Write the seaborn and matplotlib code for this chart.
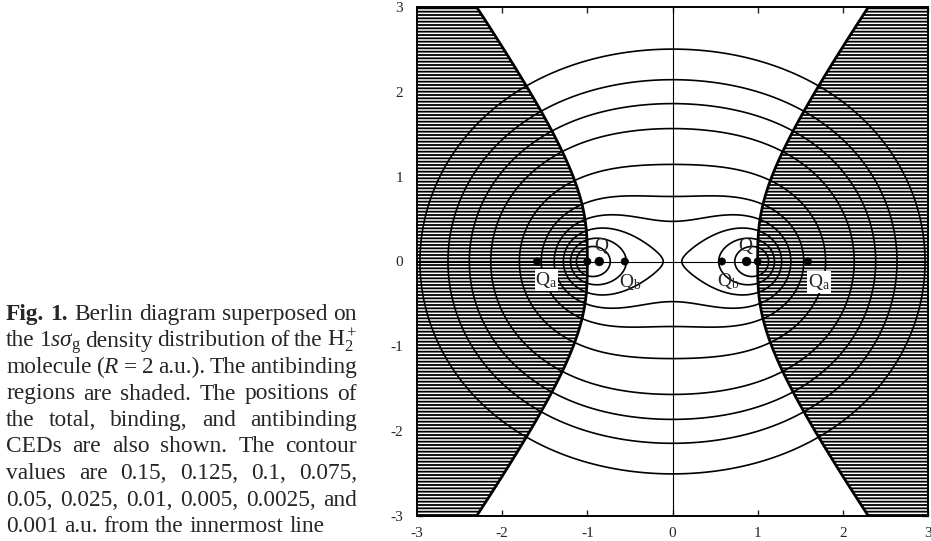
import numpy as np
import pandas as pd
import matplotlib
matplotlib.use("Agg")
import matplotlib.pyplot as plt
import seaborn as sns
from numpy.polynomial import legendre as L

# ------------------------------------------------------------------ data
internuclear_distance = 2.0            # R (a.u.)
electronic_energy = -1.1026342144949   # exact 1s sigma_g electronic energy of H2+ at R = 2 a.u.
nuclear_charges = [1.0, 1.0]
contour_values = [0.001, 0.0025, 0.005, 0.01, 0.025, 0.05, 0.075, 0.1, 0.125, 0.15]

point_kind = ["nucleus", "nucleus", "Q", "Q", "Qb", "Qb", "Qa", "Qa"]
point_x = [-1.0, 1.0, -0.86, 0.87, -0.56, 0.58, -1.59, 1.59]
point_y = [0.0, 0.0, 0.0, 0.0, 0.0, 0.0, 0.0, 0.0]

label_texts = [r"$\mathrm{Q}$", r"$\mathrm{Q}$", r"$\mathrm{Q_b}$", r"$\mathrm{Q_b}$",
               r"$\mathrm{Q_a}$", r"$\mathrm{Q_a}$"]
label_x = [-0.83, 0.86, -0.50, 0.66, -1.48, 1.72]
label_y = [0.18, 0.18, -0.24, -0.23, -0.22, -0.24]
label_boxed = [False, False, False, False, True, True]

tick_values = [-3, -2, -1, 0, 1, 2, 3]
tick_labels = ["-3", "-2", "-1", "0", "1", "2", "3"]

caption_lines = [
    "Fig. 1. Berlin diagram superposed on",
    r"the 1$s\sigma_\mathrm{g}$ density distribution of the H$_2^+$",
    r"molecule ($R$ = 2 a.u.). The antibinding",
    "regions are shaded. The positions of",
    "the total, binding, and antibinding",
    "CEDs are also shown. The contour",
    "values are 0.15, 0.125, 0.1, 0.075,",
    "0.05, 0.025, 0.01, 0.005, 0.0025, and",
    "0.001 a.u. from the innermost line",
]
caption_bold_words = ["Fig.", "1."]

# ------------------------------------------------------------------ style
sns.set_style("ticks")
plt.rcParams["font.family"] = ["Liberation Serif", "DejaVu Serif"]
plt.rcParams["mathtext.fontset"] = "custom"
plt.rcParams["mathtext.rm"] = "Liberation Serif"
plt.rcParams["mathtext.it"] = "Liberation Serif:italic"
plt.rcParams["mathtext.bf"] = "Liberation Serif:bold"
plt.rcParams["hatch.color"] = "black"
plt.rcParams["hatch.linewidth"] = 1.3

# ------------------------------------------------------------------ exact H2+ 1s sigma_g density
a = internuclear_distance / 2.0
p2 = -2.0 * electronic_energy * a ** 2
Zsum = sum(nuclear_charges)

lmax = 40
ls = np.arange(0, lmax + 1, 2)
eta_q, w_q = L.leggauss(120)
norm_l = np.sqrt((2 * ls + 1) / 2.0)
V = L.legvander(eta_q, lmax)[:, ls] * norm_l
H = np.diag(-ls * (ls + 1.0)) + p2 * (V.T * (w_q * eta_q ** 2)) @ V
vals, vecs = np.linalg.eigh(H)
lam = vals[-1]
coef = vecs[:, -1]
if (V @ coef).sum() < 0:
    coef = -coef


def eta_fun(eta):
    return (L.legvander(eta, lmax)[..., ls] * norm_l) @ coef


def qfun(xi):
    return 2 * a * Zsum * xi - p2 * xi ** 2 + lam


q0 = qfun(1.0)
q1 = 2 * a * Zsum - 2 * p2
a1 = -q0 / 2
a2 = -(2 * a1 + q1 + q0 * a1) / 8
t0 = 1e-5
h = 2e-4
xs = [1.0]
Xs = [1.0]
xi = 1.0 + t0
y = np.array([1 + a1 * t0 + a2 * t0 ** 2, a1 + 2 * a2 * t0])


def deriv(x, v):
    return np.array([v[1], -(2 * x * v[1] + qfun(x) * v[0]) / (x * x - 1)])


xs.append(xi)
Xs.append(y[0])
while xi < 7.0:
    k1 = deriv(xi, y)
    k2 = deriv(xi + h / 2, y + h / 2 * k1)
    k3 = deriv(xi + h / 2, y + h / 2 * k2)
    k4 = deriv(xi + h, y + h * k3)
    y = y + h / 6 * (k1 + 2 * k2 + 2 * k3 + k4)
    xi += h
    xs.append(xi)
    Xs.append(y[0])
xs = np.array(xs)
Xs = np.array(Xs)

lam_q = eta_fun(eta_q)
A0 = np.sum(w_q * lam_q ** 2)
A2 = np.sum(w_q * eta_q ** 2 * lam_q ** 2)
integrand = Xs ** 2 * (xs ** 2 * A0 - A2)
norm = 2 * np.pi * a ** 3 * np.sum(0.5 * (integrand[1:] + integrand[:-1]) * np.diff(xs))

gx = np.linspace(-3, 3, 801)
gy = np.linspace(-3, 3, 801)
GX, GY = np.meshgrid(gx, gy)
rA = np.hypot(GX + a, GY)
rB = np.hypot(GX - a, GY)
XI = (rA + rB) / (2 * a)
ETA = np.clip((rA - rB) / (2 * a), -1, 1)
density = (np.interp(XI, xs, Xs) * eta_fun(ETA)) ** 2 / norm

# Berlin binding function: force difference along the axis
berlin = nuclear_charges[0] * (GX + a) / rA ** 3 - nuclear_charges[1] * (GX - a) / rB ** 3
berlin = np.clip(berlin, -100, 100)

# ------------------------------------------------------------------ figure
fig = plt.figure(figsize=(9.31, 5.41), dpi=100)
ax = fig.add_axes([417 / 931, 1 - 516 / 541, 511 / 931, 509 / 541])

shade = ax.contourf(GX, GY, berlin, levels=[-101, 0], colors=["white"],
                    hatches=["-----"], zorder=1)
shade.set_edgecolor("black")
shade.set_linewidth(0)
ax.axhline(0, color="black", lw=0.8, zorder=2)
ax.axvline(0, color="black", lw=0.8, zorder=2)
ax.contour(GX, GY, density, levels=contour_values, colors="black", linewidths=1.2, zorder=3)
ax.contour(GX, GY, berlin, levels=[0], colors="black", linewidths=2.0, zorder=3)

df = pd.DataFrame({"x": point_x, "y": point_y, "kind": point_kind})
df["size"] = np.where(df["kind"] == "Q", 40, 28)
sns.scatterplot(data=df, x="x", y="y", size="size", sizes=(28, 40), color="black",
                edgecolor="black", legend=False, ax=ax, zorder=5)

for s, x, yv, boxed in zip(label_texts, label_x, label_y, label_boxed):
    kw = {}
    if boxed:
        kw["bbox"] = dict(facecolor="white", edgecolor="none", pad=0.5)
    ax.text(x, yv, s, fontsize=14, ha="center", va="center", zorder=6, **kw)

ax.set_xlim(-3, 3)
ax.set_ylim(-3, 3)
ax.set_xticks(tick_values)
ax.set_xticklabels(tick_labels)
ax.set_yticks(tick_values)
ax.set_yticklabels(tick_labels)
ax.set_xlabel("")
ax.set_ylabel("")
ax.tick_params(direction="in", length=4, width=1, top=True, right=True,
               labelsize=11, pad=8)
ax.tick_params(axis="y", pad=10)
for sp in ax.spines.values():
    sp.set_linewidth(1.4)
    sp.set_color("black")
    sp.set_zorder(7)

# ------------------------------------------------------------------ caption (justified)
renderer = fig.canvas.get_renderer()
W, Hh = 931.0, 541.0
x_left, x_right = 6.0, 357.0
base0, step = 320.0, 26.5

probe = fig.text(0, 0, caption_lines[-1], fontsize=15)
probe_w = probe.get_window_extent(renderer).width
probe.remove()
fs = 15 * 319.0 / probe_w

for i, line in enumerate(caption_lines):
    words = line.split(" ")
    yb = 1 - (base0 + i * step) / Hh
    texts = []
    for w in words:
        weight = "bold" if (i == 0 and w in caption_bold_words) else "normal"
        texts.append(fig.text(0, yb, w, fontsize=fs, fontweight=weight,
                              va="baseline", ha="left"))
    widths = [t.get_window_extent(renderer).width for t in texts]
    if i == len(caption_lines) - 1:
        gap = fs * 0.25 * 100 / 72
    else:
        gap = (x_right - x_left - sum(widths)) / (len(words) - 1)
    x = x_left
    for t, wd in zip(texts, widths):
        t.set_x(x / W)
        x += wd + gap

fig.savefig("out.png", dpi=100)
